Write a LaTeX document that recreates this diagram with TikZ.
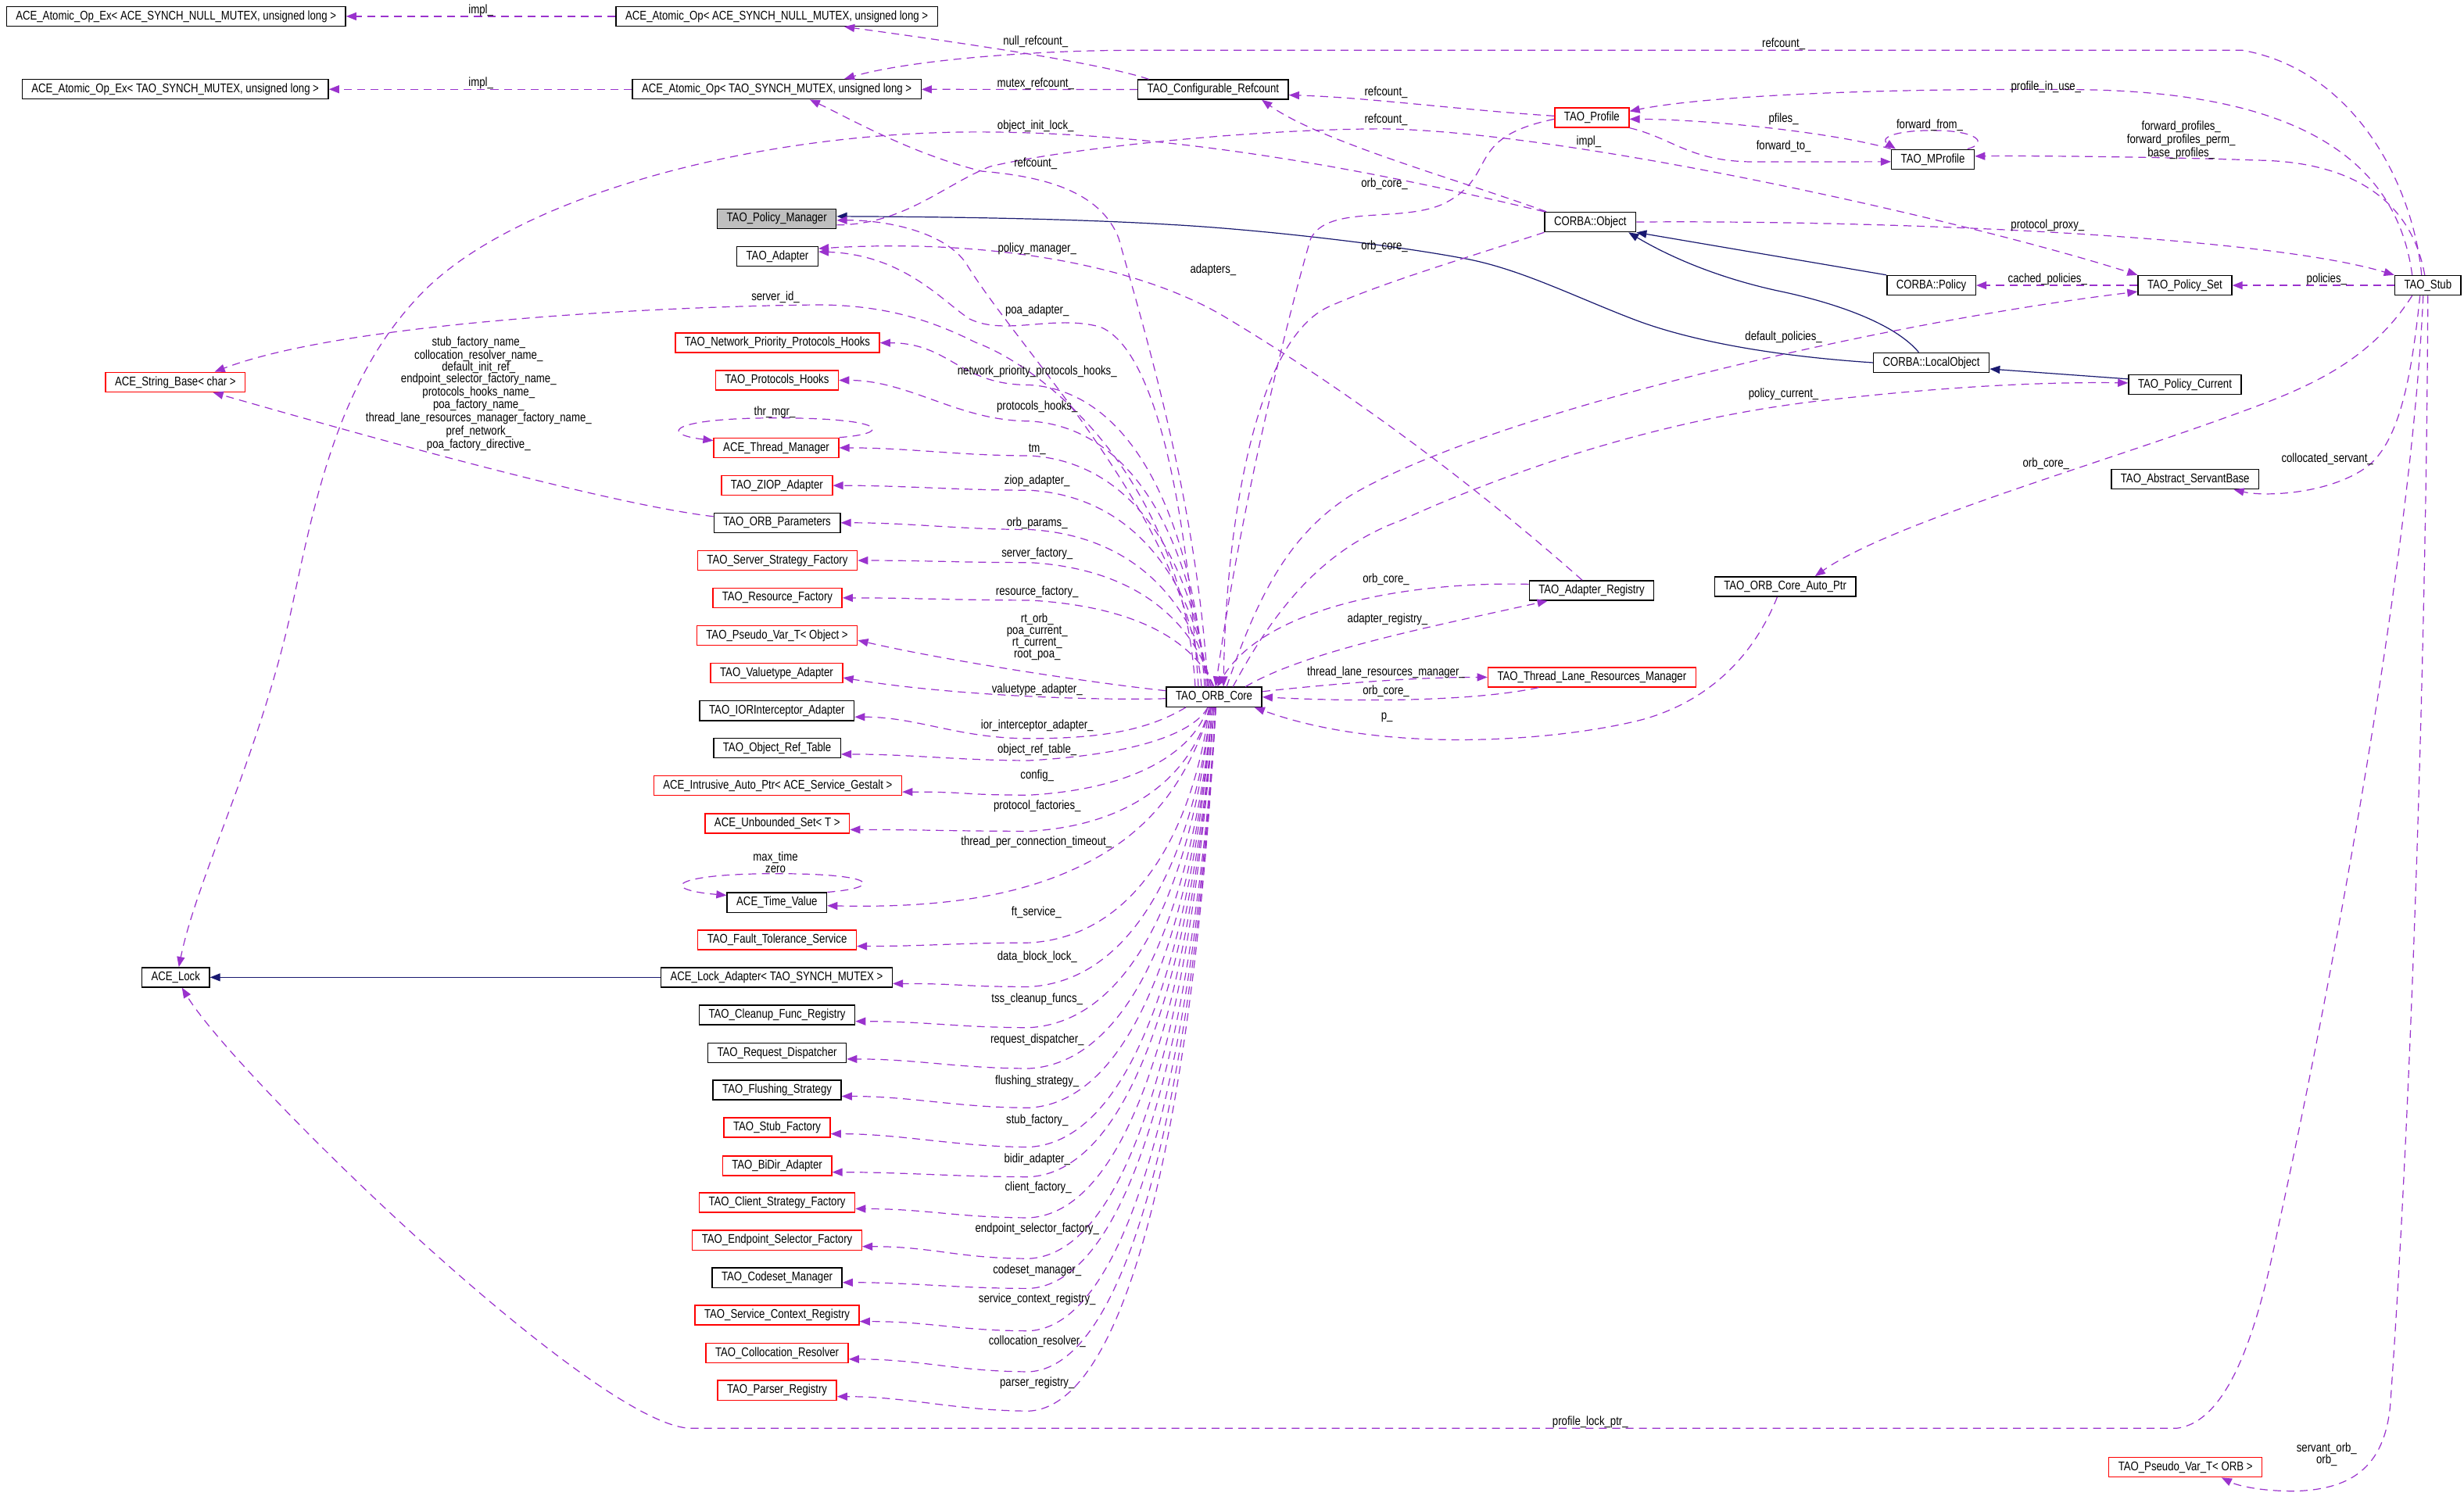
\documentclass[tikz,border=0pt]{standalone}
\usepackage{fontspec}
\usetikzlibrary{arrows.meta}
\newfontfamily\doxsans{Liberation Sans}[FakeStretch=0.82]
\newcommand\doxfont{\doxsans\fontsize{8}{7.4}\selectfont}
\definecolor{doxpurple}{HTML}{9A32CD}
\definecolor{doxnavy}{HTML}{191970}
\definecolor{doxred}{HTML}{FF0000}
\definecolor{doxgray}{HTML}{BFBFBF}
\tikzset{
  cls/.style={draw=black, line width=0.7pt, inner xsep=6pt, inner ysep=0pt, minimum height=12.5pt, font=\doxfont},
  redcls/.style={cls, draw=doxred},
  rootcls/.style={cls, fill=doxgray},
  member/.style={draw=doxpurple, line width=0.6pt, dash pattern=on 5pt off 3.5pt, -{Triangle[length=6.5pt,width=5pt]}},
  inherit/.style={draw=doxnavy, line width=0.6pt, -{Triangle[length=6.5pt,width=5pt]}},
  lbl/.style={font=\doxfont, inner sep=0pt, align=center}
}
\begin{document}
\begin{tikzpicture}[x=1pt,y=-1pt]
\useasboundingbox (0,0) rectangle (1568,959);
\fill[white] (0,0) rectangle (1568,959);

% Text Node
\node[cls] (opexnull) at (112,10.4) {ACE\_Atomic\_Op\_Ex< ACE\_SYNCH\_NULL\_MUTEX, unsigned long >};
\node[cls] (opnull) at (494.3,10.4) {ACE\_Atomic\_Op< ACE\_SYNCH\_NULL\_MUTEX, unsigned long >};
\node[cls] (opextao) at (111.5,56.8) {ACE\_Atomic\_Op\_Ex< TAO\_SYNCH\_MUTEX, unsigned long >};
\node[cls] (optao) at (494.3,56.8) {ACE\_Atomic\_Op< TAO\_SYNCH\_MUTEX, unsigned long >};
\node[cls] (confref) at (772,57) {TAO\_Configurable\_Refcount};
\node[redcls] (profile) at (1013,74.8) {TAO\_Profile};
\node[cls] (mprofile) at (1230,101.4) {TAO\_MProfile};
\node[rootcls] (polmgr) at (494.3,139.2) {TAO\_Policy\_Manager};
\node[cls] (adapter) at (494.7,163.2) {TAO\_Adapter};
\node[cls] (object) at (1012,141.3) {CORBA::Object};
\node[cls] (policy) at (1229,181.6) {CORBA::Policy};
\node[cls] (polset) at (1390.4,181.6) {TAO\_Policy\_Set};
\node[cls] (stub) at (1545,181.6) {TAO\_Stub};
\node[cls] (localobj) at (1229,230.8) {CORBA::LocalObject};
\node[cls] (polcur) at (1390.4,244.7) {TAO\_Policy\_Current};
\node[cls] (servant) at (1390.5,305) {TAO\_Abstract\_ServantBase};
\node[redcls] (strbase) at (111.6,243.2) {ACE\_String\_Base< char >};
\node[cls] (acelock) at (111.8,622) {ACE\_Lock};
\node[cls] (orb) at (772.6,443.6) {TAO\_ORB\_Core};
\node[cls] (adreg) at (1012.8,375.8) {TAO\_Adapter\_Registry};
\node[redcls] (tlrm) at (1013,431) {TAO\_Thread\_Lane\_Resources\_Manager};
\node[cls] (autoptr) at (1136,373.3) {TAO\_ORB\_Core\_Auto\_Ptr};
\node[redcls] (pseudoorb) at (1390.7,933.8) {TAO\_Pseudo\_Var\_T< ORB >};

% Text Node: left column
\node[redcls] (nethooks) at (494.7,218.2) {TAO\_Network\_Priority\_Protocols\_Hooks};
\node[redcls] (prothooks) at (494.4,242) {TAO\_Protocols\_Hooks};
\node[redcls] (thrmgr) at (494,285) {ACE\_Thread\_Manager};
\node[redcls] (ziop) at (494.4,309) {TAO\_ZIOP\_Adapter};
\node[cls] (orbparams) at (494.5,332.7) {TAO\_ORB\_Parameters};
\node[redcls] (serverfac) at (494.7,356.7) {TAO\_Server\_Strategy\_Factory};
\node[redcls] (resfac) at (494.7,380.5) {TAO\_Resource\_Factory};
\node[redcls] (pseudoobj) at (494.5,404.5) {TAO\_Pseudo\_Var\_T< Object >};
\node[redcls] (valuetype) at (494.2,428.3) {TAO\_Valuetype\_Adapter};
\node[cls] (iorint) at (494.4,452.3) {TAO\_IORInterceptor\_Adapter};
\node[cls] (objref) at (494.5,476) {TAO\_Object\_Ref\_Table};
\node[redcls] (gestalt) at (494.9,500) {ACE\_Intrusive\_Auto\_Ptr< ACE\_Service\_Gestalt >};
\node[redcls] (unbset) at (494.6,524) {ACE\_Unbounded\_Set< T >};
\node[cls] (timeval) at (494.4,574.4) {ACE\_Time\_Value};
\node[redcls] (ftserv) at (494.5,598.2) {TAO\_Fault\_Tolerance\_Service};
\node[cls] (lockadapt) at (494.2,622) {ACE\_Lock\_Adapter< TAO\_SYNCH\_MUTEX >};
\node[cls] (cleanup) at (494.5,646) {TAO\_Cleanup\_Func\_Registry};
\node[cls] (reqdisp) at (494.5,670) {TAO\_Request\_Dispatcher};
\node[cls] (flushing) at (494.5,693.7) {TAO\_Flushing\_Strategy};
\node[redcls] (stubfac) at (494.5,717.6) {TAO\_Stub\_Factory};
\node[redcls] (bidir) at (494.5,742) {TAO\_BiDir\_Adapter};
\node[redcls] (clientfac) at (494.5,765.3) {TAO\_Client\_Strategy\_Factory};
\node[redcls] (endpoint) at (494.5,789.3) {TAO\_Endpoint\_Selector\_Factory};
\node[cls] (codeset) at (494.5,813.2) {TAO\_Codeset\_Manager};
\node[redcls] (svcctx) at (494.5,837) {TAO\_Service\_Context\_Registry};
\node[redcls] (colloc) at (494.5,861) {TAO\_Collocation\_Resolver};
\node[redcls] (parser) at (494.5,884.8) {TAO\_Parser\_Registry};

%Inheritance Lines
\draw[inherit] (policy.north west) -- (object.south east);
\draw[inherit] ([xshift=-8pt]localobj.north) .. controls (1205,205) and (1165,192) .. (1131,185) .. controls (1090,176) and (1060,162) .. ([xshift=-5pt]object.south east);
\draw[inherit] (localobj.west) .. controls (1120,226) and (1070,215) .. (1039,203) .. controls (1000,188) and (965,170) .. (929,164) .. controls (880,155) and (800,146) .. (746,143) .. controls (680,139) and (600,138) .. ([yshift=1.5pt]polmgr.east);
\draw[inherit] ([yshift=3.5pt]polcur.west) -- ([yshift=-4pt]localobj.east);
\draw[inherit] (lockadapt) -- (acelock);

%Straight Lines
\draw[member] (opnull) -- (opexnull);
\draw[member] (optao) -- (opextao);
\draw[member] (confref) -- (optao);
\draw[member] (polset) -- (policy);
\draw[member] (stub) -- (polset);

%Curve Lines: upper part
\draw[member] ([xshift=-41pt]confref.north) .. controls (700,40) and (610,27) .. ([xshift=43pt]opnull.south);
\draw[member] ([xshift=-4pt]stub.north) .. controls (1536,120) and (1500,45) .. (1427,32) -- (720,32) .. controls (660,32) and (580,38) .. ([xshift=43pt]optao.north);
\draw[member] ([yshift=1pt]profile.west) .. controls (930,70) and (870,62) .. ([yshift=-3.5pt]confref.east);
\draw[member] ([xshift=-28pt]object.north) .. controls (930,115) and (840,90) .. ([xshift=31pt]confref.south);
\draw[member] ([xshift=-10pt]stub.north) .. controls (1525,100) and (1460,58) .. (1320,57) .. controls (1180,56) and (1080,62) .. ([yshift=4pt]profile.east);
\draw[member] (mprofile.north west) .. controls (1170,85) and (1090,76) .. ([yshift=-1pt]profile.east);
\draw[member] (profile.south east) .. controls (1065,88) and (1075,103) .. (1117,103) -- ([yshift=-1.5pt]mprofile.west);
\draw[member] ([xshift=22pt]mprofile.north) .. controls (1266,91) and (1258,83) .. (1230,83) .. controls (1205,83) and (1196,88) .. ([xshift=3pt]mprofile.north west);
\draw[member] ([xshift=-2pt]stub.north) .. controls (1535,130) and (1500,103) .. (1437,102) .. controls (1380,100) and (1300,99) .. ([yshift=2pt]mprofile.east);
\draw[member] (object.east) .. controls (1200,140) and (1440,150) .. (stub.north west);
\draw[member] (object.north west) .. controls (900,115) and (760,84) .. (622,84) .. controls (480,84) and (330,125) .. (270,185) .. controls (215,240) and (200,320) .. (185,390) .. controls (165,480) and (125,560) .. ([xshift=2pt]acelock.north);
\draw[member] ([yshift=-4pt]polmgr.east) .. controls (575,143) and (600,118) .. (630,106) .. controls (680,94) and (800,82) .. (881,82) .. controls (1000,84) and (1250,140) .. (polset.north west);
\draw[member] ([xshift=-4pt]orb.north) .. controls (762,320) and (728,210) .. (712,152) .. controls (700,120) and (660,112) .. (625,109) .. controls (580,98) and (540,75) .. ([xshift=21pt]optao.south);
\draw[member] ([xshift=-8pt]orb.north) .. controls (755,330) and (650,225) .. (615,168) .. controls (602,148) and (565,140) .. ([yshift=-1pt]polmgr.east);
\draw[member] ([xshift=-6pt]adreg.north) .. controls (940,310) and (860,250) .. (780,202) .. controls (720,166) and (620,152) .. ([yshift=5pt]adapter.east);
\draw[member] ([xshift=-10pt]orb.north) .. controls (755,320) and (735,222) .. (700,208) .. controls (670,200) and (640,214) .. (617,203) .. controls (600,192) and (575,162) .. ([yshift=3pt]adapter.east);
\draw[member] ([xshift=-12pt]orb.north) .. controls (752,300) and (660,232) .. (621,218) .. controls (595,205) and (565,194) .. (520,194) .. controls (420,195) and (220,205) .. ([xshift=25pt]strbase.north);
\draw[member] ([yshift=4pt]orbparams.west) .. controls (380,320) and (200,268) .. ([xshift=24pt]strbase.south);
\draw[member] (thrmgr.north east) .. controls (568,276) and (566,266) .. (494,266) .. controls (428,266) and (418,276) .. ([yshift=-2pt]thrmgr.north west);
\draw[member] (timeval.north east) .. controls (562,565) and (560,556) .. (494,556) .. controls (428,556) and (418,566) .. ([yshift=-2pt]timeval.north west);

%Curve Lines: right part
\draw[member] ([xshift=8pt]orb.north) .. controls (800,380) and (820,340) .. (860,315) .. controls (950,262) and (1200,205) .. ([yshift=-4pt]polset.west);
\draw[member] ([xshift=12pt]orb.north) .. controls (810,390) and (840,350) .. (892,331) .. controls (960,300) and (1060,265) .. (1168,254) .. controls (1240,246) and (1300,243) .. ([yshift=1pt]polcur.west);
\draw[member] ([xshift=-10pt]stub.south) .. controls (1505,235) and (1460,250) .. (1410,268) .. controls (1320,300) and (1200,335) .. ([xshift=19pt]autoptr.north);
\draw[member] ([xshift=-5pt]stub.south) .. controls (1535,235) and (1528,282) .. (1505,298) .. controls (1480,315) and (1440,316) .. ([xshift=31pt]servant.south);
\draw[member] (stub.south) .. controls (1544,400) and (1535,700) .. (1521,895) .. controls (1517,935) and (1495,948) .. (1460,949) .. controls (1440,949) and (1425,946) .. ([xshift=23pt]pseudoorb.south);
\draw[member] ([xshift=-3pt]stub.south) .. controls (1535,350) and (1485,620) .. (1450,780) .. controls (1438,840) and (1420,905) .. (1385,909) -- (440,909) .. controls (380,909) and (150,685) .. ([xshift=4pt]acelock.south);
\draw[member] ([yshift=4pt]adreg.west) .. controls (900,370) and (805,385) .. ([xshift=2pt]orb.north);
\draw[member] ([xshift=20pt]orb.north) .. controls (830,415) and (905,400) .. ([xshift=-28pt]adreg.south);
\draw[member] ([yshift=3.5pt]orb.east) .. controls (850,435) and (900,431) .. (tlrm.west);
\draw[member] ([xshift=-34pt]tlrm.south) .. controls (940,446) and (870,447) .. (orb.east);
\draw[member] ([xshift=-5pt]autoptr.south) .. controls (1115,420) and (1085,447) .. (1045,458) .. controls (990,472) and (880,480) .. ([xshift=-5pt]orb.south east);
\draw[member] (object.south west) .. controls (930,165) and (880,180) .. (846,195) .. controls (800,215) and (780,330) .. ([xshift=6pt]orb.north);
\draw[member] ([yshift=-1pt]profile.west) .. controls (930,88) and (955,112) .. (918,130) .. controls (890,142) and (845,130) .. (834,152) .. controls (820,200) and (790,320) .. ([xshift=1pt]orb.north);

%Curve Lines: orb core to left column
\draw[member] ([xshift=-6pt]orb.north) .. controls (760,341) and (725,249) .. (655,245) .. controls (610,245) and +(45,0) .. (nethooks.east);
\draw[member] ([xshift=-5pt]orb.north) .. controls (760,352) and (725,272) .. (655,268) .. controls (610,268) and +(45,0) .. (prothooks.east);
\draw[member] ([xshift=-4pt]orb.north) .. controls (760,363) and (725,294) .. (655,290) .. controls (610,290) and +(45,0) .. (thrmgr.east);
\draw[member] ([xshift=-3pt]orb.north) .. controls (760,374) and (725,316) .. (655,312) .. controls (610,312) and +(45,0) .. (ziop.east);
\draw[member] ([xshift=-2pt]orb.north) .. controls (760,387) and (725,341) .. (655,337) .. controls (610,337) and +(45,0) .. (orbparams.east);
\draw[member] ([xshift=-1pt]orb.north) .. controls (760,397) and (725,362) .. (655,358) .. controls (610,358) and +(45,0) .. (serverfac.east);
\draw[member] (orb.north) .. controls (760,409) and (725,386) .. (655,382) .. controls (610,382) and +(45,0) .. (resfac.east);
\draw[member] ([yshift=4pt]orb.west) .. controls (690,434) and (600,420) .. ([yshift=-3pt]pseudoobj.east);
\draw[member] ([yshift=-1pt]orb.west) .. controls (690,446) and (600,442) .. ([yshift=-3pt]valuetype.east);
\draw[member] ([xshift=-18pt]orb.south) .. controls (730,465) and (700,470) .. (655,470) .. controls (610,470) and +(40,0) .. ([yshift=-4pt]iorint.east);
\draw[member] ([xshift=-4pt]orb.south) .. controls (760,466) and (725,480) .. (655,484) .. controls (610,484) and +(45,0) .. ([yshift=-4pt]objref.east);
\draw[member] ([xshift=-4pt]orb.south) .. controls (760,477) and (725,502) .. (655,506) .. controls (610,506) and +(45,0) .. ([yshift=-4pt]gestalt.east);
\draw[member] ([xshift=-3pt]orb.south) .. controls (760,489) and (725,525) .. (655,529) .. controls (610,529) and +(45,0) .. ([yshift=-4pt]unbset.east);
\draw[member] ([xshift=-2pt]orb.south) .. controls (755,500) and (730,530) .. (690,550) .. controls (650,570) and (600,578) .. ([yshift=-2pt]timeval.east);
\draw[member] ([xshift=-3pt]orb.south) .. controls (760,524) and (725,596) .. (655,600) .. controls (610,600) and +(45,0) .. ([yshift=-4pt]ftserv.east);
\draw[member] ([xshift=-2pt]orb.south) .. controls (760,538) and (725,624) .. (655,628) .. controls (610,628) and +(45,0) .. ([yshift=-4pt]lockadapt.east);
\draw[member] ([xshift=-2pt]orb.south) .. controls (760,551) and (725,650) .. (655,654) .. controls (610,654) and +(45,0) .. ([yshift=-4pt]cleanup.east);
\draw[member] ([xshift=-1pt]orb.south) .. controls (760,564) and (725,676) .. (655,680) .. controls (610,680) and +(45,0) .. ([yshift=-4pt]reqdisp.east);
\draw[member] ([xshift=-1pt]orb.south) .. controls (760,577) and (725,701) .. (655,705) .. controls (610,705) and +(45,0) .. ([yshift=-4pt]flushing.east);
\draw[member] ([xshift=-1pt]orb.south) .. controls (760,589) and (725,726) .. (655,730) .. controls (610,730) and +(45,0) .. ([yshift=-4pt]stubfac.east);
\draw[member] (orb.south) .. controls (760,599) and (725,745) .. (655,749) .. controls (610,749) and +(45,0) .. ([yshift=-4pt]bidir.east);
\draw[member] (orb.south) .. controls (760,612) and (725,771) .. (655,775) .. controls (610,775) and +(45,0) .. ([yshift=-4pt]clientfac.east);
\draw[member] (orb.south) .. controls (760,625) and (725,797) .. (655,801) .. controls (610,801) and +(45,0) .. ([yshift=-4pt]endpoint.east);
\draw[member] ([xshift=1pt]orb.south) .. controls (762,634) and (725,816) .. (655,820) .. controls (610,820) and +(45,0) .. ([yshift=-3pt]codeset.east);
\draw[member] ([xshift=1pt]orb.south) .. controls (762,648) and (725,843) .. (655,847) .. controls (610,847) and +(45,0) .. ([yshift=-4pt]svcctx.east);
\draw[member] ([xshift=1pt]orb.south) .. controls (762,661) and (725,869) .. (655,873) .. controls (610,873) and +(45,0) .. ([yshift=-4pt]colloc.east);
\draw[member] ([xshift=1pt]orb.south) .. controls (762,673) and (725,894) .. (655,898) .. controls (610,898) and +(45,0) .. ([yshift=-4pt]parser.east);

% Text Node: edge labels
\node[lbl] (lbimplnull) at (306,6.5) {impl\_};
\node[lbl] (lbimpltao) at (306,53) {impl\_};
\node[lbl] (lbnullref) at (659,26.5) {null\_refcount\_};
\node[lbl] (lbmutexref) at (659,53.5) {mutex\_refcount\_};
\node[lbl] (lbinitlock) at (659,80.4) {object\_init\_lock\_};
\node[lbl] (lbrefcore) at (659,104) {refcount\_};
\node[lbl] (lbrefstub) at (1135,28) {refcount\_};
\node[lbl] (lbrefprof) at (882,59) {refcount\_};
\node[lbl] (lbrefobj) at (882,76) {refcount\_};
\node[lbl] (lbinuse) at (1302,55.6) {profile\_in\_use\_};
\node[lbl] (lbpfiles) at (1135,76) {pfiles\_};
\node[lbl] (lbfwdto) at (1135,93) {forward\_to\_};
\node[lbl] (lbfwdfrom) at (1228,79.6) {forward\_from\_};
\node[lbl] (lbfwdprof) at (1388,89) {forward\_profiles\_\\forward\_profiles\_perm\_\\base\_profiles\_};
\node[lbl] (lbimplset) at (1011,90.4) {impl\_};
\node[lbl] (lbcoreprof) at (881,117) {orb\_core\_};
\node[lbl] (lbcoreobj) at (881,157) {orb\_core\_};
\node[lbl] (lbproxy) at (1303,143.3) {protocol\_proxy\_};
\node[lbl] (lbcached) at (1303,177.6) {cached\_policies\_};
\node[lbl] (lbpolicies) at (1480.6,177.6) {policies\_};
\node[lbl] (lbdefpol) at (1135,214.5) {default\_policies\_};
\node[lbl] (lbpolcur) at (1135,251) {policy\_current\_};
\node[lbl] (lbcorestub) at (1302,295.3) {orb\_core\_};
\node[lbl] (lbcollserv) at (1481,292) {collocated\_servant\_};
\node[lbl] (lbservorb) at (1480.6,925.6) {servant\_orb\_\\orb\_};
\node[lbl] (lblockptr) at (1012,905) {profile\_lock\_ptr\_};
\node[lbl] (lbpolmgr) at (660,158.5) {policy\_manager\_};
\node[lbl] (lbadapters) at (772,171.6) {adapters\_};
\node[lbl] (lbpoa) at (660,197.5) {poa\_adapter\_};
\node[lbl] (lbserverid) at (493.5,189) {server\_id\_};
\node[lbl] (lbparams) at (304.6,250.7) {stub\_factory\_name\_\\collocation\_resolver\_name\_\\default\_init\_ref\_\\endpoint\_selector\_factory\_name\_\\protocols\_hooks\_name\_\\poa\_factory\_name\_\\thread\_lane\_resources\_manager\_factory\_name\_\\pref\_network\_\\poa\_factory\_directive\_};
\node[lbl] (lbthrmgr) at (493,262.5) {thr\_mgr\_};
\node[lbl] (lbtimeval) at (493.5,548.8) {max\_time\\zero};
\node[lbl] (lbcorereg) at (882,368.5) {orb\_core\_};
\node[lbl] (lbadreg) at (883,394) {adapter\_registry\_};
\node[lbl] (lbtlrm) at (882,428) {thread\_lane\_resources\_manager\_};
\node[lbl] (lbcoretlrm) at (882,440) {orb\_core\_};
\node[lbl] (lbp) at (882.6,456.6) {p\_};
\node[lbl] (lbnet) at (660,236.6) {network\_priority\_protocols\_hooks\_};
\node[lbl] (lbprot) at (660,259) {protocols\_hooks\_};
\node[lbl] (lbtm) at (660,286) {tm\_};
\node[lbl] (lbziop) at (660,306) {ziop\_adapter\_};
\node[lbl] (lborbparams) at (660,333) {orb\_params\_};
\node[lbl] (lbserverfac) at (660,352.6) {server\_factory\_};
\node[lbl] (lbresfac) at (660,376.5) {resource\_factory\_};
\node[lbl] (lbrtorb) at (660,405.4) {rt\_orb\_\\poa\_current\_\\rt\_current\_\\root\_poa\_};
\node[lbl] (lbvaluetype) at (660,439) {valuetype\_adapter\_};
\node[lbl] (lbior) at (660,461.7) {ior\_interceptor\_adapter\_};
\node[lbl] (lbobjref) at (660,477) {object\_ref\_table\_};
\node[lbl] (lbconfig) at (660,493.4) {config\_};
\node[lbl] (lbprotfac) at (660,513) {protocol\_factories\_};
\node[lbl] (lbtimeout) at (659.5,535.7) {thread\_per\_connection\_timeout\_};
\node[lbl] (lbft) at (659.5,580.8) {ft\_service\_};
\node[lbl] (lbdblock) at (660,609) {data\_block\_lock\_};
\node[lbl] (lbtss) at (660,636) {tss\_cleanup\_funcs\_};
\node[lbl] (lbreqdisp) at (660,662) {request\_dispatcher\_};
\node[lbl] (lbflush) at (660,688) {flushing\_strategy\_};
\node[lbl] (lbstubfac) at (660,713) {stub\_factory\_};
\node[lbl] (lbbidir) at (660,737.8) {bidir\_adapter\_};
\node[lbl] (lbclient) at (660.7,755.7) {client\_factory\_};
\node[lbl] (lbendpoint) at (660,782.4) {endpoint\_selector\_factory\_};
\node[lbl] (lbcodeset) at (660,808.5) {codeset\_manager\_};
\node[lbl] (lbsvcctx) at (660,827) {service\_context\_registry\_};
\node[lbl] (lbcolloc) at (660,854) {collocation\_resolver\_};
\node[lbl] (lbparser) at (660,880) {parser\_registry\_};
\end{tikzpicture}
\end{document}
